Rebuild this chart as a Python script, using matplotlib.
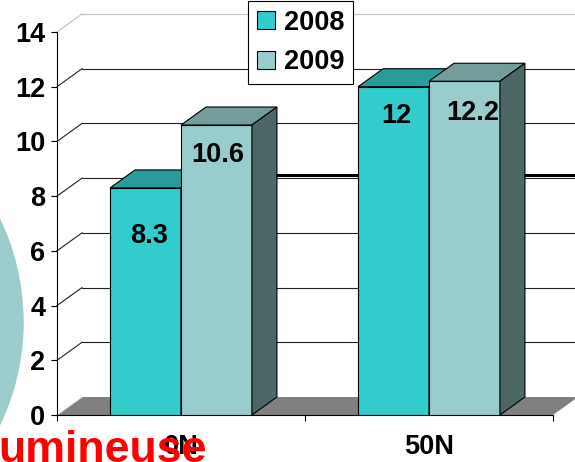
import matplotlib
matplotlib.use('Agg')
import matplotlib.pyplot as plt
from matplotlib.patches import Polygon, Patch, Ellipse

plt.rcParams['font.family'] = ['Liberation Sans', 'DejaVu Sans']
plt.rcParams['font.weight'] = 'bold'

categories = ['0N', '50N']
series = ['2008', '2009']
values_2008 = [8.3, 12]
values_2009 = [10.6, 12.2]
y_ticks = [0, 2, 4, 6, 8, 10, 12, 14]

front = {'2008': '#33CCCC', '2009': '#99CCCC'}
top = {'2008': '#2A9A9A', '2009': '#739C9A'}
side = {'2008': '#1F7A7A', '2009': '#4D6666'}

W, H = 575, 462
fig = plt.figure(figsize=(W / 100, H / 100), dpi=100)

# big pale disc peeking in from the left
fig.add_artist(Ellipse((-215 / W, 1 - 322 / H), 2 * 238 / W, 2 * 238 / H,
                       transform=fig.transFigure, color='#9CCCCC', zorder=-1))

ax = fig.add_axes([57 / W, 47 / H, 518 / W, 383 / H])
xmax = 518 / 248
ax.set_xlim(0, xmax)
ax.set_ylim(0, 14)
ax.patch.set_visible(False)

# depth of the 3-D effect in data units
dx = 25 / 248
dy = 18 * 14 / 383

# floor
ax.add_patch(Polygon([(0, 0), (2, 0), (2 + dx, dy), (dx, dy)],
                     fc='#808080', ec='none', zorder=1))
ax.plot([0, dx], [0, dy], color='#E8E8E8', lw=0.8, zorder=1.5)

# wall gridlines
for v in y_ticks[1:]:
    c = '#C0C0C0' if v == 14 else '#222222'
    ax.plot([0, dx], [v, v + dy], color=c, lw=0.8, clip_on=False, zorder=1)
    ax.plot([dx, xmax], [v + dy, v + dy], color=c, lw=0.8, clip_on=False, zorder=1)

ax.plot([0.8, xmax], [8.76, 8.76], color='black', lw=2.2,
        solid_capstyle='butt', zorder=2)

fs = 19.5
bar_w = 0.286
label_shift = {('2008', 0): (0.014, 1.75), ('2009', 0): (0.006, 1.1),
               ('2008', 1): (0.011, 1.08), ('2009', 1): (0.034, 1.16)}
for i, cat in enumerate(categories):
    for j, (name, vals) in enumerate([('2008', values_2008), ('2009', values_2009)]):
        x0 = i + 0.5 - bar_w + j * bar_w
        x1 = x0 + bar_w
        v = vals[i]
        kw = dict(ec='black', lw=0.8, zorder=3, joinstyle='miter')
        ax.add_patch(Polygon([(x0, 0), (x1, 0), (x1, v), (x0, v)], fc=front[name], **kw))
        ax.add_patch(Polygon([(x0, v), (x1, v), (x1 + dx, v + dy), (x0 + dx, v + dy)],
                             fc=top[name], **kw))
        ax.add_patch(Polygon([(x1, 0), (x1 + dx, dy), (x1 + dx, v + dy), (x1, v)],
                             fc=side[name], **kw))
        sx, sy = label_shift[(name, i)]
        ax.text((x0 + x1) / 2 + sx, v - sy, f'{v:g}', ha='center', va='center',
                fontsize=fs, fontweight='bold', zorder=4)

for s in ['top', 'right']:
    ax.spines[s].set_visible(False)
ax.spines['left'].set_bounds(0, 14)
ax.spines['bottom'].set_bounds(0, 2)
for s in ['left', 'bottom']:
    ax.spines[s].set_linewidth(0.8)
    ax.spines[s].set_zorder(2.5)

ax.set_yticks(y_ticks)
ax.set_yticklabels([str(t) for t in y_ticks], fontsize=fs, fontweight='bold')
ax.tick_params(axis='y', direction='out', length=4.3, width=0.8, pad=4)
ax.set_xticks([0.5, 1.5])
ax.set_xticklabels(categories, fontsize=fs, fontweight='bold')
ax.set_xticks([0, 1, 2], minor=True)
ax.tick_params(axis='x', which='major', length=0, pad=14)
ax.tick_params(axis='x', which='minor', direction='out', length=4.3, width=0.8)

handles = [Patch(fc=front[s], ec='black', lw=0.8) for s in series]
leg = fig.legend(handles, series, loc='upper left',
                 bbox_to_anchor=(248 / W, 1 - 1 / H), borderaxespad=0,
                 prop={'size': fs, 'weight': 'bold'}, handlelength=0.65,
                 handleheight=0.65, handletextpad=0.35, borderpad=0.33,
                 labelspacing=0.5, fancybox=False, framealpha=1,
                 edgecolor='black')
leg.get_frame().set_linewidth(0.8)

fig.text(-2 / W, 0, 'umineuse', color='#FF0000', fontsize=32.2,
         fontweight='bold', ha='left', va='baseline', zorder=10)

fig.savefig('out.png', dpi=100)
